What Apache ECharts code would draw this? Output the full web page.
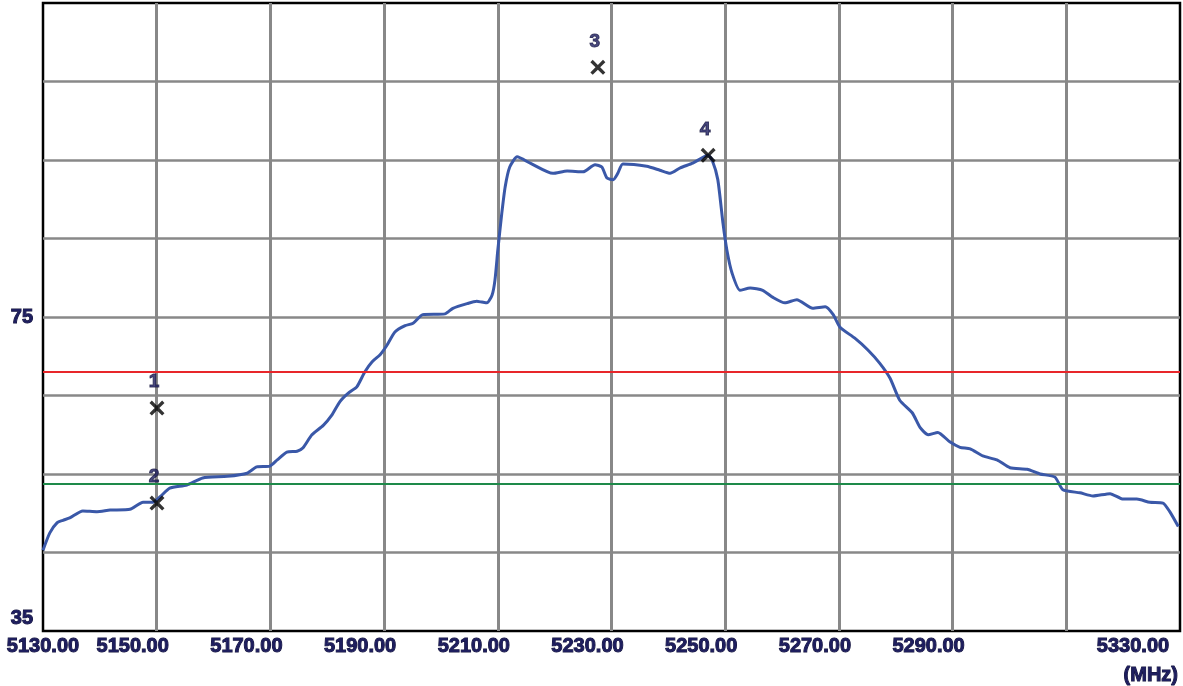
<!DOCTYPE html>
<html>
<head>
<meta charset="utf-8">
<style>
html,body{margin:0;padding:0;background:#fff;}
#c{width:1183px;height:686px;}
</style>
<script src="https://cdn.jsdelivr.net/npm/echarts@6/dist/echarts.min.js"></script>
</head>
<body>
<div id="c"></div>
<script>
// Trace: frequency (MHz) and level
var freq = [5130.0,5131.2,5132.5,5133.5,5134.7,5137.0,5139.5,5141.8,5145.3,5147.6,5149.3,5150.6,5152.3,5155.3,5158.1,5162.4,5165.9,5167.6,5169.9,5171.2,5172.9,5174.7,5175.7,5177.3,5179.3,5180.8,5182.2,5183.7,5185.2,5186.6,5187.9,5189.3,5190.5,5191.9,5193.7,5195.1,5196.8,5200.7,5202.1,5204.6,5206.3,5207.2,5208.1,5209.0,5209.5,5210.0,5210.7,5211.3,5212.1,5213.4,5215.7,5219.7,5222.2,5225.0,5227.1,5228.3,5229.2,5230.3,5231.1,5232.0,5236.2,5238.5,5240.3,5242.1,5244.3,5247.0,5247.7,5248.7,5249.6,5250.3,5251.2,5252.6,5254.4,5256.6,5258.4,5260.5,5262.6,5265.4,5267.6,5269.0,5270.2,5272.8,5275.1,5277.2,5279.0,5280.7,5282.9,5284.3,5285.7,5287.4,5289.5,5291.3,5293.1,5295.3,5297.8,5300.1,5303.1,5305.4,5308.0,5309.4,5312.4,5314.7,5317.7,5320.0,5322.4,5324.7,5327.0,5328.2,5329.7];
var level = [45.3,47.5,48.8,49.1,49.4,50.3,50.2,50.4,50.5,51.4,51.4,52.1,53.2,53.6,54.5,54.7,55.1,55.9,56.0,56.8,57.8,57.9,58.3,60.0,61.2,62.5,64.2,65.3,66.1,68.0,69.3,70.2,71.4,73.1,73.9,74.2,75.3,75.4,76.1,76.7,77.0,76.9,76.8,77.8,79.7,83.5,88.2,91.6,94.1,95.4,94.6,93.3,93.6,93.5,94.4,94.1,92.7,92.5,93.3,94.5,94.2,93.7,93.3,94.0,94.6,95.6,95.0,92.5,87.0,83.5,80.6,78.4,78.7,78.4,77.5,76.8,77.2,76.1,76.3,75.3,73.7,72.3,70.8,69.1,67.2,64.4,62.8,60.9,60.0,60.3,59.1,58.4,58.2,57.3,56.8,55.8,55.6,55.0,54.6,53.0,52.6,52.2,52.5,51.8,51.8,51.4,51.3,50.2,48.3];

// Markers
var markerNames = ['1','2','3','4'];
var markerFreq = [5150.05,5150.05,5227.6,5247.0];
var markerLevel = [63.4,51.3,106.8,95.6];

// Limit lines
var redLimit = 68.0;
var greenLimit = 53.7;

// Axis ticks
var xMin = 5130, xMax = 5330, xStep = 20;
var yMin = 35, yMax = 115, yStep = 10;
var yLabelValues = [35, 75];
var xSkipLabels = [5310];

var labelColor = '#1e1e5e';
var font = "'Liberation Sans', Arial, sans-serif";

var traceData = freq.map(function(f,i){return [f, level[i]];});
var markerData = markerFreq.map(function(f,i){return {value:[f, markerLevel[i]], name: markerNames[i]};});

var chart = echarts.init(document.getElementById('c'));
var labelBase = {fontFamily: font, fontWeight: 'bold', fontSize: 20, color: labelColor, textBorderColor: '#14143a', textBorderWidth: 1};
chart.setOption({
  animation: false,
  backgroundColor: '#fff',
  grid: {left: 43, right: 3, top: 3, bottom: 55, show: true, borderColor: '#000', borderWidth: 2.5, backgroundColor: 'transparent'},
  xAxis: {
    type: 'value', min: xMin, max: xMax, interval: xStep,
    name: '(MHz)', nameLocation: 'end', nameGap: -2,
    nameTextStyle: Object.assign({align: 'right', verticalAlign: 'top', padding: [34, 0, 0, 0]}, labelBase),
    axisLine: {show: false}, axisTick: {show: false},
    splitLine: {show: true, showMinLine: false, showMaxLine: false, lineStyle: {color: '#888', width: 3}},
    axisLabel: Object.assign({
      margin: 5,
      formatter: function(v){
        if (xSkipLabels.indexOf(v) >= 0) return '';
        var s = v.toFixed(2);
        if (v === xMin) return '{f|' + s + '}';
        if (v === xMax) return '{l|' + s + '}';
        return '{m|' + s + '}';
      },
      rich: {
        f: Object.assign({padding: [0, 0, 0, 0]}, labelBase),
        m: Object.assign({padding: [0, 48, 0, 0]}, labelBase),
        l: Object.assign({padding: [0, 94, 0, 0]}, labelBase)
      }
    }, labelBase)
  },
  yAxis: {
    type: 'value', min: yMin, max: yMax, interval: yStep,
    axisLine: {show: false}, axisTick: {show: false},
    splitLine: {show: true, showMinLine: false, showMaxLine: false, lineStyle: {color: '#888', width: 2.5}},
    axisLabel: Object.assign({
      margin: 10,
      formatter: function(v){
        if (yLabelValues.indexOf(v) < 0) return '';
        if (v === yMin) return '{b|' + v + '}';
        return '{n|' + v + '}';
      },
      rich: {
        b: Object.assign({padding: [0, 0, 26, 0]}, labelBase),
        n: Object.assign({}, labelBase)
      }
    }, labelBase)
  },
  series: [
    {
      type: 'line', data: traceData, showSymbol: false, smooth: 0.2,
      lineStyle: {color: '#3a58a8', width: 3}, z: 3,
      markLine: {
        silent: true, symbol: 'none', label: {show: false},
        data: [
          {yAxis: redLimit, lineStyle: {color: '#e8262a', width: 2, type: 'solid'}},
          {yAxis: greenLimit, lineStyle: {color: '#1e8a4a', width: 2, type: 'solid'}}
        ]
      }
    },
    {
      type: 'scatter', data: markerData, z: 5,
      symbol: 'path://M0,2.2 L2.2,0 L7,4.8 L11.8,0 L14,2.2 L9.2,7 L14,11.8 L11.8,14 L7,9.2 L2.2,14 L0,11.8 L4.8,7 Z',
      symbolSize: 15,
      itemStyle: {color: '#000'},
      label: Object.assign({show: true, position: 'top', distance: 9, offset: [-3, 0], formatter: '{b}'},
        labelBase, {fontSize: 19})
    }
  ]
});
</script>
</body>
</html>
